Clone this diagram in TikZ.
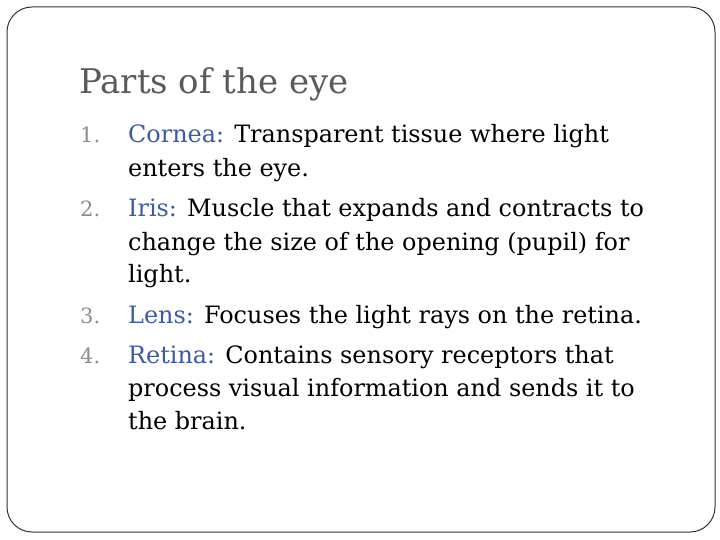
\documentclass[tikz,border=0pt]{standalone}
\usepackage{fontspec}
\setmainfont{DejaVu Serif}
\definecolor{titlegray}{HTML}{5A5A5A}
\definecolor{numgray}{HTML}{8C8C8C}
\definecolor{lblue}{HTML}{3B5BA5}
\begin{document}
\begin{tikzpicture}[x=1pt,y=-1pt,
  body/.style={anchor=base west,inner sep=0pt,font=\fontsize{23.9}{26}\selectfont},
  num/.style={anchor=base west,inner sep=0pt,text=numgray,font=\fontsize{21}{23}\selectfont}]
\useasboundingbox (0,0) rectangle (720,540);
\draw[rounded corners=25pt,line width=1pt,draw=black!80] (7,7) rectangle (715,532);
\node[anchor=base west,inner sep=0pt,text=titlegray,font=\fontsize{34}{38}\selectfont] (t) at (79,94) {Parts of the eye};
\node[num] (n1) at (80,143) {1.};
\node[num] (n2) at (80,217) {2.};
\node[num] (n3) at (80,323) {3.};
\node[num] (n4) at (80,363) {4.};
\node[body] (l1) at (128,143) {\textcolor{lblue}{Cornea:} Transparent tissue where light};
\node[body] (l2) at (128,177) {enters the eye.};
\node[body] (l3) at (128,217) {\textcolor{lblue}{Iris:} Muscle that expands and contracts to};
\node[body] (l4) at (128,250) {change the size of the opening (pupil) for};
\node[body] (l5) at (128,282) {light.};
\node[body] (l6) at (128,323) {\textcolor{lblue}{Lens:} Focuses the light rays on the retina.};
\node[body] (l7) at (128,363) {\textcolor{lblue}{Retina:} Contains sensory receptors that};
\node[body] (l8) at (128,396) {process visual information and sends it to};
\node[body] (l9) at (128,429) {the brain.};
\end{tikzpicture}
\end{document}
